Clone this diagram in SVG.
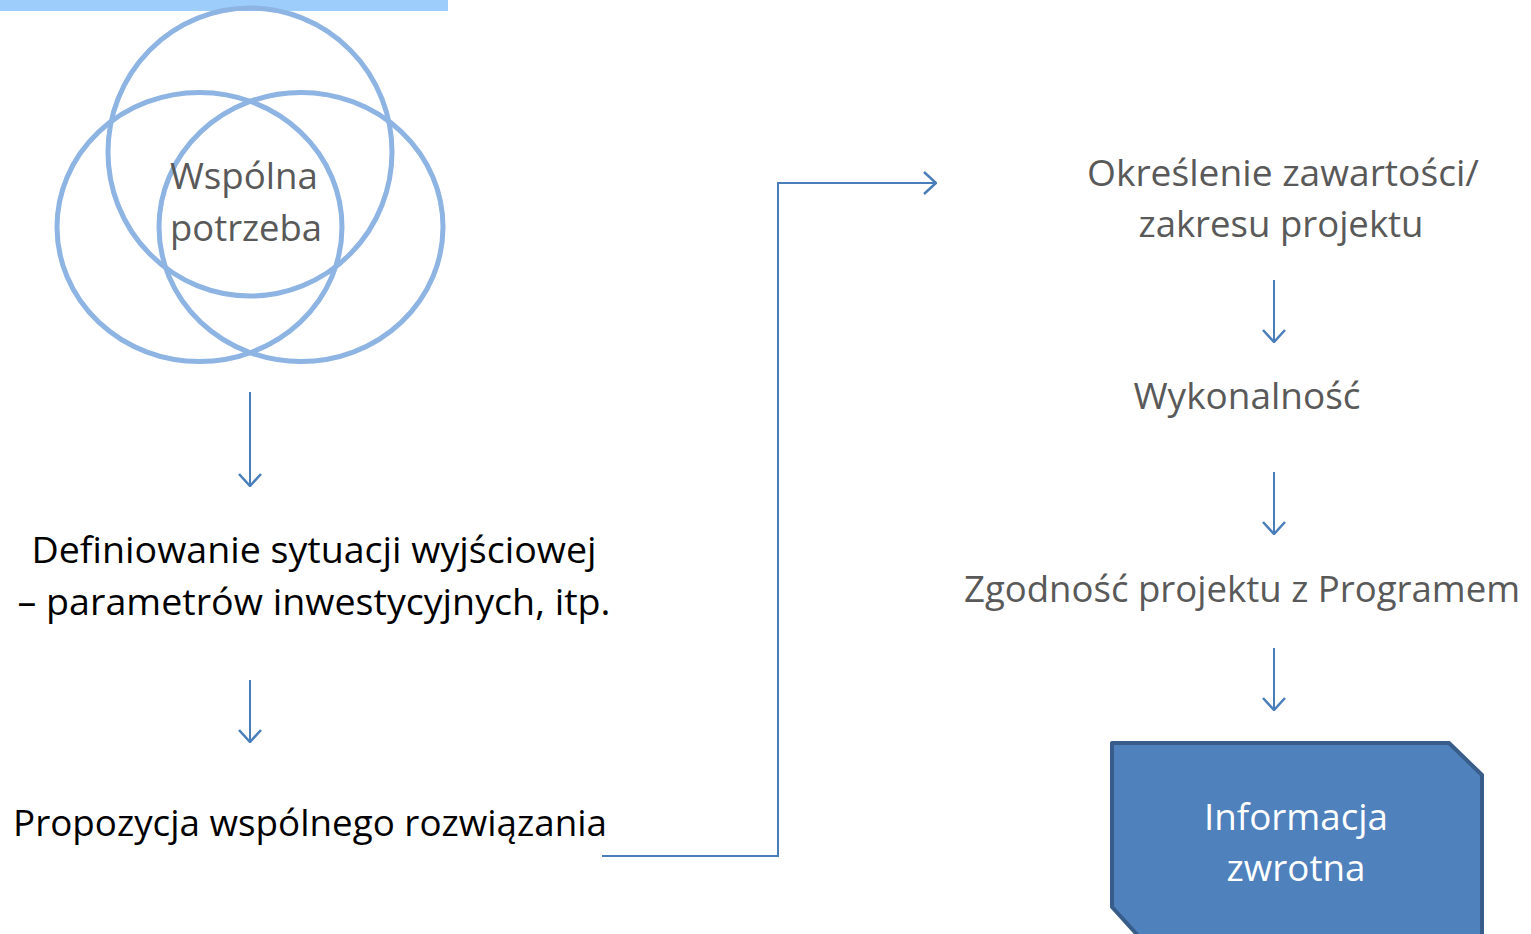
<svg xmlns="http://www.w3.org/2000/svg" width="1531" height="934" viewBox="0 0 1531 934">
<style>
.t{font-family:"Open Sans","Noto Sans","Liberation Sans",sans-serif;font-size:36px}
.g{fill:#595959}
.k{fill:#000000}
.w{fill:#ffffff}
.c{fill:none;stroke:#8db4e2;stroke-width:5}
.ln{fill:none;stroke:#4a7ebb;stroke-width:2}
</style>
<defs>
<marker id="ah" viewBox="0 0 14 24" refX="13" refY="12" markerWidth="14" markerHeight="24" markerUnits="userSpaceOnUse" orient="auto">
<path d="M1,1 L13,12 L1,23" fill="none" stroke="#4a7ebb" stroke-width="2.5"/>
</marker>
</defs>
<rect x="0" y="0" width="448" height="11" fill="#9dcdfa"/>
<g id="venn">
<ellipse class="c" cx="250" cy="152" rx="142" ry="144"/>
<ellipse class="c" cx="199.5" cy="227" rx="142.5" ry="134.5"/>
<ellipse class="c" cx="301" cy="227" rx="142" ry="134.5"/>
<text class="t g" x="244" y="189" text-anchor="middle" textLength="148" lengthAdjust="spacingAndGlyphs">Wspólna</text>
<text class="t g" x="246" y="241" text-anchor="middle" textLength="152" lengthAdjust="spacingAndGlyphs">potrzeba</text>
</g>
<g id="definiowanie">
<text class="t k" x="314" y="563" text-anchor="middle" textLength="565" lengthAdjust="spacingAndGlyphs">Definiowanie sytuacji wyjściowej</text>
<text class="t k" x="314" y="615" text-anchor="middle" textLength="593" lengthAdjust="spacingAndGlyphs">– parametrów inwestycyjnych, itp.</text>
</g>
<g id="propozycja">
<text class="t k" x="310" y="836" text-anchor="middle" textLength="594" lengthAdjust="spacingAndGlyphs">Propozycja wspólnego rozwiązania</text>
</g>
<g id="okreslenie">
<text class="t g" x="1283" y="186" text-anchor="middle" textLength="392" lengthAdjust="spacingAndGlyphs">Określenie zawartości/</text>
<text class="t g" x="1281" y="237" text-anchor="middle" textLength="285" lengthAdjust="spacingAndGlyphs">zakresu projektu</text>
</g>
<g id="wykonalnosc">
<text class="t g" x="1247" y="409" text-anchor="middle" textLength="227" lengthAdjust="spacingAndGlyphs">Wykonalność</text>
</g>
<g id="zgodnosc">
<text class="t g" x="1242" y="602" text-anchor="middle" textLength="556" lengthAdjust="spacingAndGlyphs">Zgodność projektu z Programem</text>
</g>
<g id="informacja">
<path d="M1112,743 L1449,743 L1482,775 L1482,940 L1142,940 L1112,907 Z" fill="#4f81bd" stroke="#385d8a" stroke-width="4" stroke-linejoin="round"/>
<text class="t w" x="1296" y="830" text-anchor="middle" textLength="184" lengthAdjust="spacingAndGlyphs">Informacja</text>
<text class="t w" x="1296" y="881" text-anchor="middle" textLength="139" lengthAdjust="spacingAndGlyphs">zwrotna</text>
</g>
<g id="connectors">
<line class="ln" x1="250" y1="392" x2="250" y2="486" marker-end="url(#ah)"/>
<line class="ln" x1="250" y1="680" x2="250" y2="742" marker-end="url(#ah)"/>
<polyline class="ln" points="602,856 778,856 778,183 936,183" marker-end="url(#ah)"/>
<line class="ln" x1="1274" y1="280" x2="1274" y2="342" marker-end="url(#ah)"/>
<line class="ln" x1="1274" y1="472" x2="1274" y2="534" marker-end="url(#ah)"/>
<line class="ln" x1="1274" y1="648" x2="1274" y2="710" marker-end="url(#ah)"/>
</g>
</svg>
